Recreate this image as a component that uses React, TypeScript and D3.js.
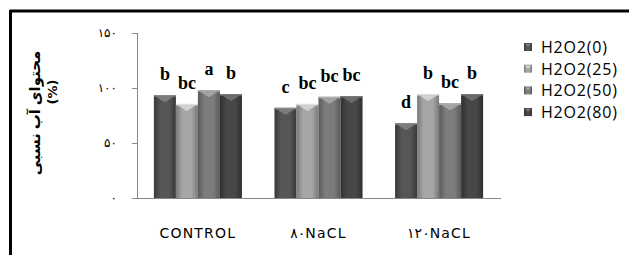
import React from "react";
import * as d3 from "d3";

const categories = ["CONTROL", "۸۰NaCL", "۱۲۰NaCL"];
const seriesNames = ["H2O2(0)", "H2O2(25)", "H2O2(50)", "H2O2(80)"];
const h0 = [93.5, 82, 68];
const h25 = [85.5, 85.5, 94.5];
const h50 = [98, 92, 86];
const h80 = [94.5, 92.7, 94.5];
const letters0 = ["b", "c", "d"];
const letters25 = ["bc", "bc", "b"];
const letters50 = ["a", "bc", "bc"];
const letters80 = ["b", "bc", "b"];
const yTicks = [0, 50, 100, 150];
const yTickLabels = ["۰", "۵۰", "۱۰۰", "۱۵۰"];
const yTitle = "محتوای آب نسبی";
const yUnit = "(%)";

const seriesValues = [h0, h25, h50, h80];
const seriesLetters = [letters0, letters25, letters50, letters80];
const colors = [
  { edge: "#383838", mid: "#565656", top: "#8a8a8a" },
  { edge: "#7a7a7a", mid: "#a6a6a6", top: "#e0e0e0" },
  { edge: "#5a5a5a", mid: "#7c7c7c", top: "#b0b0b0" },
  { edge: "#2f2f2f", mid: "#474747", top: "#7a7a7a" },
];

export default function App() {
  const W = 629, H = 255;
  const x0 = d3.scaleBand().domain(categories).range([137, 500]).paddingInner(0.27).paddingOuter(0.14);
  const x1 = d3.scaleBand().domain(seriesNames).range([0, x0.bandwidth()]).padding(0);
  const y = d3.scaleLinear().domain([0, 150]).range([198, 33]);
  const font = "'DejaVu Sans', sans-serif";
  return (
    <svg width={W} height={H} style={{ position: "absolute", left: 0, top: 0, background: "#fff" }}>
      <defs>
        {colors.map((c, i) => (
          <linearGradient key={i} id={`g${i}`} x1="0" x2="1" y1="0" y2="0">
            <stop offset="0" stopColor={c.edge} />
            <stop offset="0.3" stopColor={c.mid} />
            <stop offset="0.7" stopColor={c.mid} />
            <stop offset="1" stopColor={c.edge} />
          </linearGradient>
        ))}
      </defs>
      <rect width={W} height={H} fill="#fff" />
      <line x1={10} y1={11} x2={W} y2={11} stroke="#000" strokeWidth={3} />
      <line x1={10.5} y1={10} x2={10.5} y2={H} stroke="#000" strokeWidth={3} />
      <line x1={137.5} y1={y(150)} x2={137.5} y2={y(0)} stroke="#888" strokeWidth={1} />
      {yTicks.map((t) => (
        <line key={t} x1={132} x2={137.5} y1={Math.round(y(t)) + 0.5} y2={Math.round(y(t)) + 0.5} stroke="#888" />
      ))}
      {yTicks.map((t, i) => (
        <text key={"l" + t} x={117} y={y(t) + 4} textAnchor="end" fontSize={12} letterSpacing={1.5} fontFamily={font} fill="#000">
          {yTickLabels[i]}
        </text>
      ))}
      <line x1={132} x2={501} y1={198.5} y2={198.5} stroke="#888" strokeWidth={1} />
      {categories.map((cat, ci) =>
        seriesNames.map((s, si) => {
          const v = seriesValues[si][ci];
          const bx = (x0(cat) as number) + (x1(s) as number);
          const bw = x1.bandwidth();
          const by = y(v);
          const bh = y(0) - by;
          const c = colors[si];
          return (
            <g key={cat + s}>
              <rect x={bx} y={by} width={bw} height={bh} fill={`url(#g${si})`} />
              <rect x={bx} y={by} width={bw} height={1.5} fill={c.top} />
              <path d={`M${bx + 2},${by + 1.5} L${bx + bw - 2},${by + 1.5} L${bx + bw / 2},${by + 7} Z`} fill={c.top} opacity={0.75} />
              <text x={bx + bw / 2} y={by - 15} textAnchor="middle" fontSize={18} fontWeight="bold" fontFamily="'Liberation Serif', serif" fill="#000">
                {seriesLetters[si][ci]}
              </text>
            </g>
          );
        })
      )}
      {categories.map((cat) => (
        <text key={cat} x={(x0(cat) as number) + x0.bandwidth() / 2} y={238} textAnchor="middle" fontSize={14} letterSpacing={1.2} fontFamily={font} fill="#000" direction="ltr">
          {cat}
        </text>
      ))}
      <text transform="translate(40,113) rotate(-90)" textAnchor="middle" fontSize={15} fontWeight="bold" fontFamily="'Noto Sans', 'DejaVu Sans', sans-serif" fill="#000">
        {yTitle}
      </text>
      <text transform="translate(57,92) rotate(-90)" textAnchor="middle" fontSize={13} fontWeight="bold" fontFamily={font} fill="#000">
        {yUnit}
      </text>
      {seriesNames.map((s, i) => (
        <g key={s} transform={`translate(524, ${47 + i * 21.7})`}>
          <rect x={0} y={-4} width={8} height={8} fill={`url(#g${i})`} />
          <path d={`M1,-3 L7,-3 L4,0 Z`} fill={colors[i].top} opacity={0.8} />
          <text x={17} y={6} fontSize={16} letterSpacing={0.8} fontFamily="'Open Sans', 'DejaVu Sans', sans-serif" fill="#000">
            {s}
          </text>
        </g>
      ))}
    </svg>
  );
}
